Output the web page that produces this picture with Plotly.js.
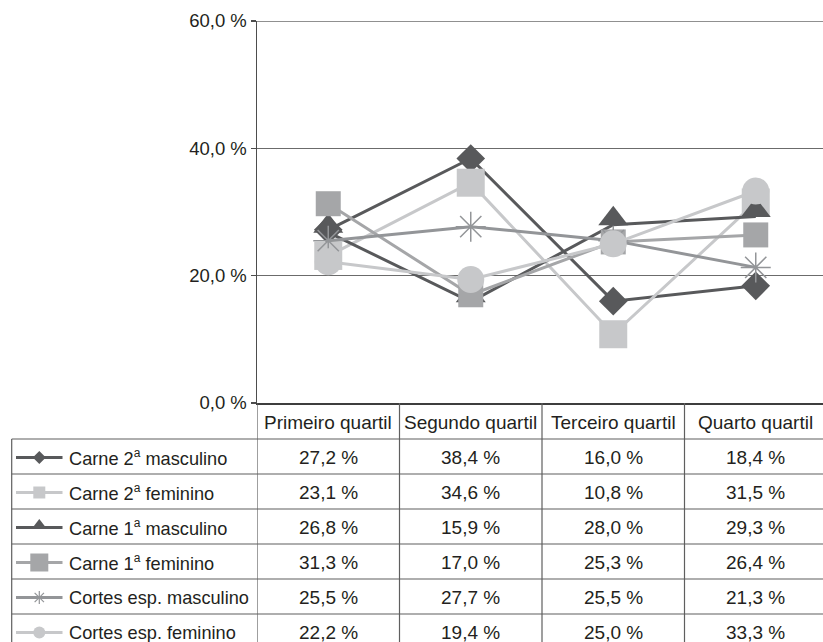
<!DOCTYPE html>
<html>
<head>
<meta charset="utf-8">
<script src="https://cdn.plot.ly/plotly-3.0.1.min.js"></script>
<style>
  html, body { margin: 0; padding: 0; background: #fff; overflow: hidden; }
  #chart { width: 827px; height: 642px; }
</style>
</head>
<body>
<div id="chart"></div>
<script>
// Quartile categories (x axis / table header)
const quartis = ['Primeiro quartil', 'Segundo quartil', 'Terceiro quartil', 'Quarto quartil'];

// Series names
const seriesNames = [
  'Carne 2ª masculino',
  'Carne 2ª feminino',
  'Carne 1ª masculino',
  'Carne 1ª feminino',
  'Cortes esp. masculino',
  'Cortes esp. feminino'
];

// Shares per quartile (%)
const carne2Masc  = [27.2, 38.4, 16.0, 18.4];
const carne2Fem   = [23.1, 34.6, 10.8, 31.5];
const carne1Masc  = [26.8, 15.9, 28.0, 29.3];
const carne1Fem   = [31.3, 17.0, 25.3, 26.4];
const cortesMasc  = [25.5, 27.7, 25.5, 21.3];
const cortesFem   = [22.2, 19.4, 25.0, 33.3];

const seriesValues = [carne2Masc, carne2Fem, carne1Masc, carne1Fem, cortesMasc, cortesFem];

// Marker / line styling per series
const DARK = '#58595b', LIGHT = '#c7c8ca', MID = '#a5a6a8', MID2 = '#939598';
const styles = [
  { color: DARK,  symbol: 'diamond',       size: 22, legSize: 10, lw: 0 },
  { color: LIGHT, symbol: 'square',        size: 28, legSize: 12, lw: 0 },
  { color: DARK,  symbol: 'triangle-down', size: 26, legSize: 13, lw: 0, angle: 180, standoff: 6 },
  { color: MID,   symbol: 'square',        size: 25, legSize: 18, lw: 0 },
  { color: MID2,  symbol: 'asterisk-open', size: 25, legSize: 11, lw: 1.5 },
  { color: LIGHT, symbol: 'circle',        size: 27, legSize: 12, lw: 0 }
];

// Page geometry (px)
const W = 827, H = 642;
const plotLeft = 257, plotTop = 21, plotBottom = 403;
const headerBottom = 439;
const rowH = 35;
const tableLeft = 11.7;
const legLineX0 = 16, legLineX1 = 62.5, legMarkX = 39.3, legTextX = 67;
const FONT = 'Liberation Sans, Arial, sans-serif';
const FS = 19;
const LEG_FS = 18.2;
const TICK_FS = 18.5;
const TEXT = '#231f20';
const GRID_LINE = '#6b6b6b';

const fmt = v => v.toFixed(1).replace('.', ',') + ' %';
const label = s => s.replace('ª', '<sup><span style="font-size:12px">a</span></sup>');
const rowCenter = i => headerBottom + rowH * (i + 0.5) + 1;

const traces = [];

// Main line series
seriesValues.forEach((vals, i) => {
  const st = styles[i];
  const marker = {
    symbol: st.symbol, size: st.size, color: st.color,
    line: { width: st.lw, color: st.color }
  };
  if (st.angle !== undefined) marker.angle = st.angle;
  if (st.standoff !== undefined) marker.standoff = st.standoff;
  traces.push({
    type: 'scatter', mode: 'lines+markers',
    x: quartis, y: vals, name: seriesNames[i],
    line: { color: st.color, width: 3 },
    marker: marker,
    cliponaxis: false,
    xaxis: 'x', yaxis: 'y', hoverinfo: 'skip', showlegend: false
  });
});

// Table legend samples (line + marker) in pixel-space axes
seriesNames.forEach((name, i) => {
  const st = styles[i];
  const cy = rowCenter(i);
  traces.push({
    type: 'scatter', mode: 'lines',
    x: [legLineX0, legLineX1], y: [cy, cy],
    line: { color: st.color, width: 3 },
    xaxis: 'x2', yaxis: 'y2', hoverinfo: 'skip', showlegend: false
  });
  const m = {
    symbol: st.symbol, size: st.legSize, color: st.color,
    line: { width: st.lw ? 1.2 : 0, color: st.color }
  };
  if (st.angle !== undefined) m.angle = st.angle;
  if (st.standoff !== undefined) m.standoff = 2;
  traces.push({
    type: 'scatter', mode: 'markers',
    x: [legMarkX], y: [cy], marker: m,
    xaxis: 'x2', yaxis: 'y2', hoverinfo: 'skip', showlegend: false
  });
});

// Table grid
const shapes = [];
const lineStyle = { color: '#5f5f5f', width: 1.2 };
// top gridline at the end of the value axis
shapes.push({
  type: 'line', xref: 'x domain', yref: 'y',
  x0: 0, x1: 1, y0: 60, y1: 60,
  line: { color: GRID_LINE, width: 1.3 }
});
// column separators through the table (and the y axis position)
for (let k = 0; k <= quartis.length; k++) {
  shapes.push({
    type: 'line', xref: 'x', yref: 'y2',
    x0: k - 0.5, x1: k - 0.5, y0: plotBottom, y1: H + 10,
    line: lineStyle
  });
}
// legend column left border
shapes.push({
  type: 'line', xref: 'x2', yref: 'y2',
  x0: tableLeft, x1: tableLeft, y0: headerBottom, y1: H + 10, line: lineStyle
});
// row separators
for (let r = 0; r <= seriesNames.length; r++) {
  const y = headerBottom + rowH * r;
  shapes.push({
    type: 'line', xref: 'x2', yref: 'y2',
    x0: tableLeft, x1: W, y0: y, y1: y, line: lineStyle
  });
}

// Table text
const annotations = [];
quartis.forEach((q, k) => {
  annotations.push({
    xref: 'x', yref: 'y2', x: k, y: (plotBottom + headerBottom) / 2 + 1,
    text: q, showarrow: false, xanchor: 'center', yanchor: 'middle',
    font: { family: FONT, size: FS, color: TEXT }
  });
});
seriesNames.forEach((name, i) => {
  const cy = rowCenter(i);
  annotations.push({
    xref: 'x2', yref: 'y2', x: legTextX, y: cy,
    text: label(name), showarrow: false, xanchor: 'left', yanchor: 'middle',
    font: { family: FONT, size: LEG_FS, color: TEXT }
  });
  seriesValues[i].forEach((v, k) => {
    annotations.push({
      xref: 'x', yref: 'y2', x: k, y: cy,
      text: fmt(v), showarrow: false, xanchor: 'center', yanchor: 'middle',
      font: { family: FONT, size: FS, color: TEXT }
    });
  });
});

const layout = {
  width: W, height: H,
  margin: { l: 0, r: 0, t: 0, b: 0, pad: 0 },
  paper_bgcolor: '#ffffff',
  plot_bgcolor: 'rgba(0,0,0,0)',
  separators: ',.',
  font: { family: FONT, size: FS, color: TEXT },
  showlegend: false,
  xaxis: {
    domain: [plotLeft / W, 1],
    type: 'category', range: [-0.5, quartis.length - 0.5],
    showticklabels: false, ticks: '', showgrid: false, zeroline: false,
    showline: true, linecolor: '#3d3d3d', linewidth: 2,
    anchor: 'y', fixedrange: true
  },
  yaxis: {
    domain: [1 - plotBottom / H, 1 - plotTop / H],
    range: [0, 60], dtick: 20, tick0: 0,
    tickformat: '.1f', ticksuffix: ' %',
    ticks: 'outside', ticklen: 5, tickwidth: 1.5, tickcolor: '#4d4d4d',
    showline: true, linecolor: '#4d4d4d', linewidth: 1.5,
    showgrid: true, gridcolor: GRID_LINE, gridwidth: 1.3,
    zeroline: false,
    tickfont: { family: FONT, size: TICK_FS, color: TEXT },
    anchor: 'x', fixedrange: true
  },
  xaxis2: {
    domain: [0, 1], range: [0, W], visible: false, anchor: 'y2', fixedrange: true
  },
  yaxis2: {
    domain: [0, 1], range: [H, 0], visible: false, anchor: 'x2', fixedrange: true
  },
  shapes: shapes,
  annotations: annotations
};

Plotly.newPlot('chart', traces, layout, { staticPlot: true, displayModeBar: false });
</script>
</body>
</html>
